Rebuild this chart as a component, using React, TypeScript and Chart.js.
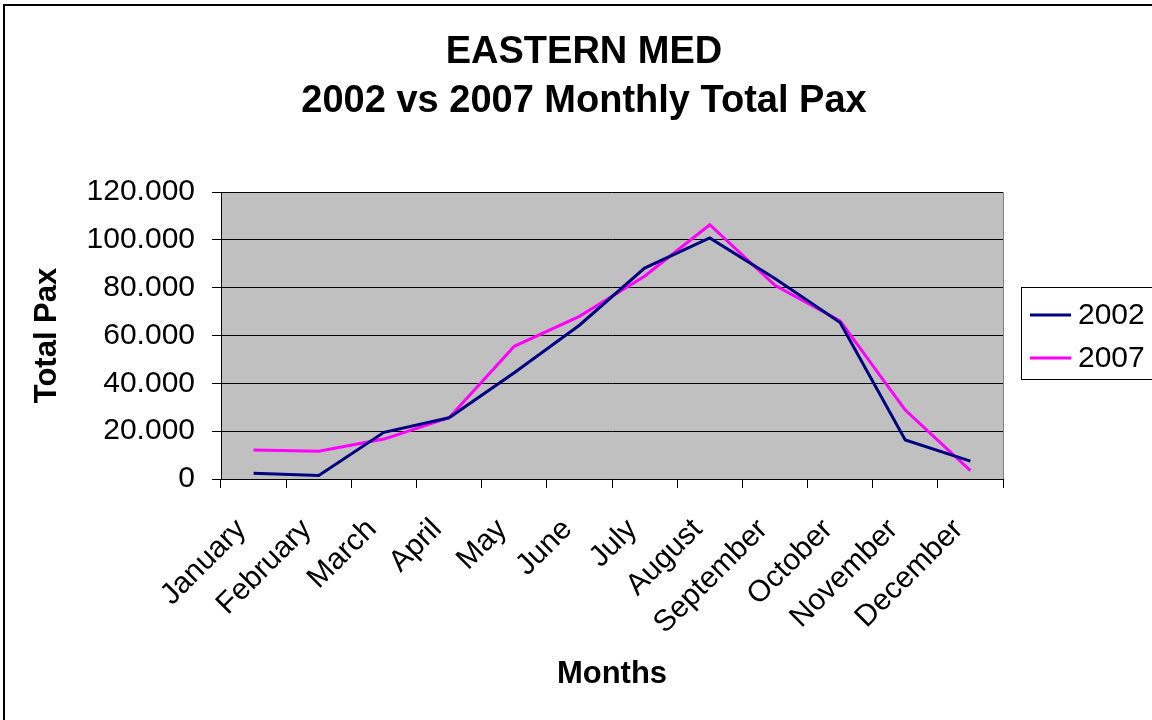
import React, { useEffect, useRef } from "react";
import { Chart, registerables } from "chart.js";

Chart.register(...registerables);

const months = ["January", "February", "March", "April", "May", "June", "July", "August", "September", "October", "November", "December"];
const pax2002 = [2400, 1500, 19500, 25600, 44400, 64300, 88200, 100800, 83800, 65400, 16300, 7500];
const pax2007 = [12100, 11600, 16700, 25600, 55500, 68000, 84800, 106300, 81000, 66100, 28800, 3500];
const titleLines = ["EASTERN MED", "2002 vs 2007 Monthly Total Pax"];
const seriesNames = ["2002", "2007"];
const seriesColors = ["#000080", "#FF00FF"];

const FONT = "'Liberation Sans', Arial, Helvetica, sans-serif";

const fmt = (v: number) => {
  const s = Math.round(v).toString();
  return s.replace(/\B(?=(\d{3})+(?!\d))/g, ".");
};

const decorPlugin = {
  id: "decor",
  beforeDraw(chart: any) {
    const { ctx, chartArea } = chart;
    ctx.save();
    ctx.fillStyle = "#C0C0C0";
    ctx.fillRect(chartArea.left, chartArea.top, chartArea.right - chartArea.left, chartArea.bottom - chartArea.top);
    ctx.strokeStyle = "#808080";
    ctx.lineWidth = 1;
    ctx.beginPath();
    ctx.moveTo(chartArea.left, chartArea.top + 0.5);
    ctx.lineTo(chartArea.right + 0.5, chartArea.top + 0.5);
    ctx.lineTo(chartArea.right + 0.5, chartArea.bottom);
    ctx.stroke();
    ctx.restore();
  },
  afterDraw(chart: any) {
    const { ctx } = chart;
    ctx.save();
    // title
    ctx.fillStyle = "#000";
    ctx.font = `bold 38px ${FONT}`;
    ctx.textAlign = "center";
    ctx.textBaseline = "middle";
    ctx.fillText(titleLines[0], 584, 53);
    ctx.fillText(titleLines[1], 584, 102);
    // legend
    ctx.strokeStyle = "#000";
    ctx.lineWidth = 1;
    ctx.strokeRect(1021.5, 287.5, 140, 92);
    ctx.font = `30px ${FONT}`;
    ctx.textAlign = "left";
    const ys = [315, 358];
    chart.data.datasets.forEach((ds: any, i: number) => {
      ctx.strokeStyle = ds.borderColor;
      ctx.lineWidth = 3;
      ctx.beginPath();
      ctx.moveTo(1030, ys[i]);
      ctx.lineTo(1071, ys[i]);
      ctx.stroke();
      ctx.fillStyle = "#000";
      ctx.fillText(ds.label, 1078, ys[i] + 1);
    });
    ctx.restore();
  },
};

export default function App() {
  const ref = useRef<HTMLCanvasElement>(null);
  useEffect(() => {
    if (!ref.current) return;
    const chart = new Chart(ref.current, {
      type: "line",
      data: {
        labels: months,
        datasets: [
          { label: seriesNames[0], data: pax2002, borderColor: seriesColors[0], backgroundColor: seriesColors[0], borderWidth: 3, pointRadius: 0, tension: 0 },
          { label: seriesNames[1], data: pax2007, borderColor: seriesColors[1], backgroundColor: seriesColors[1], borderWidth: 3, pointRadius: 0, tension: 0 },
        ],
      },
      options: {
        animation: false,
        responsive: false,
        maintainAspectRatio: false,
        layout: { padding: { left: 0, top: 192, right: 149, bottom: 0 } },
        plugins: { legend: { display: false }, title: { display: false }, tooltip: { enabled: false } },
        scales: {
          x: {
            offset: true,
            afterFit: (s: any) => { s.height = 241; },
            grid: { offset: true, drawOnChartArea: false, tickLength: 9, color: "#000", lineWidth: 1 },
            border: { color: "#000", width: 1 },
            ticks: { maxRotation: 45, minRotation: 45, autoSkip: false, color: "#000", font: { family: FONT, size: 30 }, padding: 24, labelOffset: -12 },
            title: { display: true, text: "Months", color: "#000", font: { family: FONT, size: 31, weight: "bold" }, padding: { top: 0, bottom: 27 } },
          },
          y: {
            min: 0,
            max: 120000,
            afterFit: (s: any) => { s.width = 221; },
            grid: { tickLength: 9, color: "#000", lineWidth: 1 },
            border: { color: "#000", width: 1 },
            ticks: { stepSize: 20000, color: "#000", font: { family: FONT, size: 30 }, padding: 17, callback: (v: any) => fmt(Number(v)) },
            title: { display: true, text: "Total Pax", color: "#000", font: { family: FONT, size: 31, weight: "bold" }, padding: { top: 29, bottom: 0 } },
          },
        },
      } as any,
      plugins: [decorPlugin],
    });
    return () => chart.destroy();
  }, []);
  return (
    <div style={{ position: "fixed", left: 0, top: 0, width: 1152, height: 720, background: "#fff", overflow: "hidden" }}>
      <canvas ref={ref} width={1152} height={720} style={{ position: "absolute", left: 0, top: 0, width: 1152, height: 720 }} />
      <div style={{ position: "absolute", left: 3, top: 4, width: 1200, height: 800, borderLeft: "2px solid #000", borderTop: "2px solid #000", pointerEvents: "none" }} />
    </div>
  );
}
